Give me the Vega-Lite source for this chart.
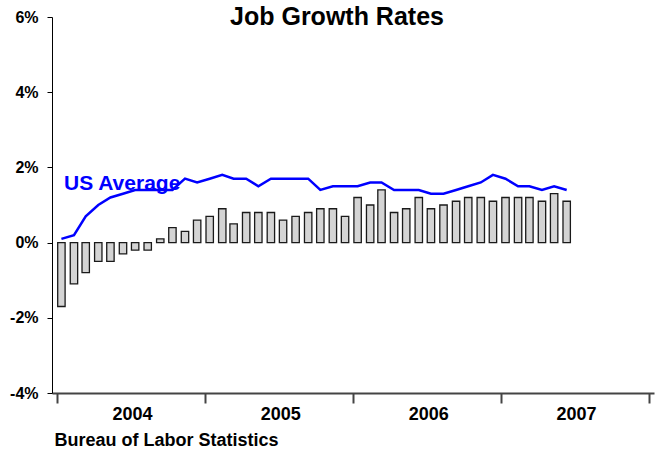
{
  "$schema": "https://vega.github.io/schema/vega-lite/v6.json",
  "autosize": "none",
  "width": 602,
  "height": 376,
  "padding": {"left": 52, "top": 17, "right": 7, "bottom": 59},
  "background": "white",
  "config": {
    "view": {"stroke": null},
    "font": "Liberation Sans"
  },
  "title": {
    "text": "Job Growth Rates",
    "font": "Liberation Sans",
    "fontSize": 25,
    "fontWeight": "bold",
    "color": "black",
    "anchor": "middle",
    "dx": -16,
    "dy": 21,
    "offset": 0
  },
  "datasets": {
    "jobs": [
      {"month": "2004/01/01", "state": -1.7, "us": 0.1},
      {"month": "2004/02/01", "state": -1.1, "us": 0.2},
      {"month": "2004/03/01", "state": -0.8, "us": 0.7},
      {"month": "2004/04/01", "state": -0.5, "us": 1.0},
      {"month": "2004/05/01", "state": -0.5, "us": 1.2},
      {"month": "2004/06/01", "state": -0.3, "us": 1.3},
      {"month": "2004/07/01", "state": -0.2, "us": 1.4},
      {"month": "2004/08/01", "state": -0.2, "us": 1.4},
      {"month": "2004/09/01", "state": 0.1, "us": 1.4},
      {"month": "2004/10/01", "state": 0.4, "us": 1.4},
      {"month": "2004/11/01", "state": 0.3, "us": 1.7},
      {"month": "2004/12/01", "state": 0.6, "us": 1.6},
      {"month": "2005/01/01", "state": 0.7, "us": 1.7},
      {"month": "2005/02/01", "state": 0.9, "us": 1.8},
      {"month": "2005/03/01", "state": 0.5, "us": 1.7},
      {"month": "2005/04/01", "state": 0.8, "us": 1.7},
      {"month": "2005/05/01", "state": 0.8, "us": 1.5},
      {"month": "2005/06/01", "state": 0.8, "us": 1.7},
      {"month": "2005/07/01", "state": 0.6, "us": 1.7},
      {"month": "2005/08/01", "state": 0.7, "us": 1.7},
      {"month": "2005/09/01", "state": 0.8, "us": 1.7},
      {"month": "2005/10/01", "state": 0.9, "us": 1.4},
      {"month": "2005/11/01", "state": 0.9, "us": 1.5},
      {"month": "2005/12/01", "state": 0.7, "us": 1.5},
      {"month": "2006/01/01", "state": 1.2, "us": 1.5},
      {"month": "2006/02/01", "state": 1.0, "us": 1.6},
      {"month": "2006/03/01", "state": 1.4, "us": 1.6},
      {"month": "2006/04/01", "state": 0.8, "us": 1.4},
      {"month": "2006/05/01", "state": 0.9, "us": 1.4},
      {"month": "2006/06/01", "state": 1.2, "us": 1.4},
      {"month": "2006/07/01", "state": 0.9, "us": 1.3},
      {"month": "2006/08/01", "state": 1.0, "us": 1.3},
      {"month": "2006/09/01", "state": 1.1, "us": 1.4},
      {"month": "2006/10/01", "state": 1.2, "us": 1.5},
      {"month": "2006/11/01", "state": 1.2, "us": 1.6},
      {"month": "2006/12/01", "state": 1.1, "us": 1.8},
      {"month": "2007/01/01", "state": 1.2, "us": 1.7},
      {"month": "2007/02/01", "state": 1.2, "us": 1.5},
      {"month": "2007/03/01", "state": 1.2, "us": 1.5},
      {"month": "2007/04/01", "state": 1.1, "us": 1.4},
      {"month": "2007/05/01", "state": 1.3, "us": 1.5},
      {"month": "2007/06/01", "state": 1.1, "us": 1.4}
    ],
    "notes": [
      {"month": "2004/01/01", "value": 1.55, "label": "US Average"}
    ]
  },
  "layer": [
    {
      "data": {"name": "jobs"},
      "mark": {"type": "bar", "size": 7.4, "fill": "#d4d4d4", "stroke": "#1a1a1a", "strokeWidth": 1.3, "xOffset": 4.4},
      "encoding": {
        "x": {
          "field": "month",
          "type": "temporal",
          "scale": {"domain": [{"year": 2004, "month": 1, "date": 1}, {"year": 2008, "month": 1, "date": 1}], "nice": false},
          "axis": {
            "title": "Bureau of Labor Statistics",
            "titleFont": "Liberation Sans",
            "titleFontSize": 18,
            "titleFontWeight": "bold",
            "titleColor": "black",
            "titleAnchor": "start",
            "titleAlign": "left",
            "titleBaseline": "middle",
            "titleX": 2,
            "titleY": 47,
            "tickCount": {"interval": "year", "step": 1},
            "format": "%Y",
            "labelExpr": "year(datum.value) >= 2008 ? '' : datum.label",
            "labelOffset": 75,
            "labelFlush": false,
            "labelBound": false,
            "labelOverlap": false,
            "labelFont": "Liberation Sans",
            "labelFontSize": 18,
            "labelFontWeight": "bold",
            "labelColor": "black",
            "labelPadding": 2,
            "tickSize": 10,
            "tickWidth": 2,
            "tickColor": "#444444",
            "domainColor": "#444444",
            "domainWidth": 2,
            "grid": false
          }
        },
        "y": {
          "field": "state",
          "type": "quantitative",
          "scale": {"domain": [-4, 6], "nice": false, "zero": false},
          "axis": {
            "title": null,
            "values": [-4, -2, 0, 2, 4, 6],
            "labelExpr": "datum.value + '%'",
            "labelFont": "Liberation Sans",
            "labelFontSize": 16,
            "labelFontWeight": "bold",
            "labelColor": "black",
            "labelPadding": 9,
            "tickSize": 5,
            "tickColor": "black",
            "domainColor": "black",
            "grid": false
          }
        }
      }
    },
    {
      "data": {"name": "jobs"},
      "mark": {"type": "line", "color": "#0000ff", "strokeWidth": 2.5, "xOffset": 4.4},
      "encoding": {
        "x": {"field": "month", "type": "temporal"},
        "y": {"field": "us", "type": "quantitative"}
      }
    },
    {
      "data": {"name": "notes"},
      "mark": {"type": "text", "align": "left", "baseline": "middle", "dx": 7, "font": "Liberation Sans", "fontSize": 21, "fontWeight": "bold", "color": "#0000ff"},
      "encoding": {
        "x": {"field": "month", "type": "temporal"},
        "y": {"field": "value", "type": "quantitative"},
        "text": {"field": "label"}
      }
    }
  ]
}
